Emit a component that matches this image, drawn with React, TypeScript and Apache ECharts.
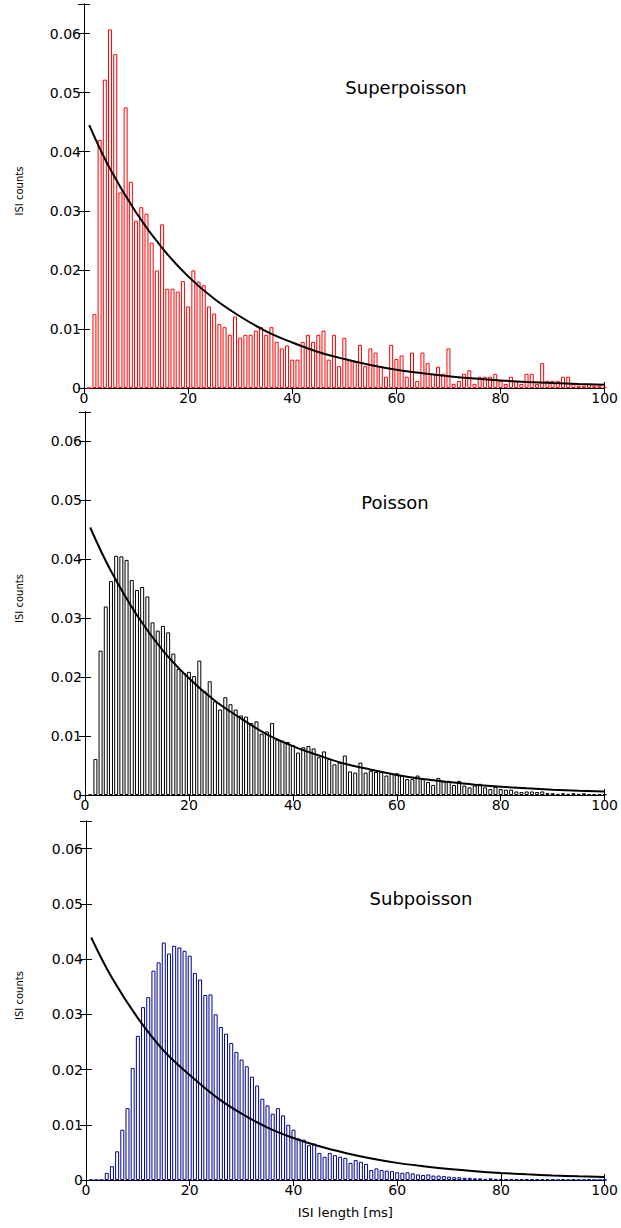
import React, { useEffect, useRef } from "react";
import * as echarts from "echarts";

// ---- data ----
const BIN_COUNT = 100; // histogram bins centred on 1..100 ms
const X_TICKS = [0, 20, 40, 60, 80, 100];
const Y_MAX = 0.065;
const PANEL_TITLES = ["Superpoisson", "Poisson", "Subpoisson"];

const superpoisson = [
  0, 0.0125, 0.042, 0.0522, 0.0607, 0.0565, 0.0331, 0.0475, 0.0349, 0.0283,
  0.0306, 0.0295, 0.0246, 0.0199, 0.0277, 0.0168, 0.0168, 0.0163, 0.0181, 0.0138,
  0.0199, 0.018, 0.0174, 0.0138, 0.0126, 0.0108, 0.0103, 0.009, 0.0121, 0.0085,
  0.009, 0.009, 0.0097, 0.0103, 0.009, 0.0103, 0.0078, 0.0067, 0.0072, 0.0048,
  0.0048, 0.0078, 0.009, 0.0078, 0.009, 0.0097, 0.0048, 0.009, 0.0037, 0.0085,
  0.0047, 0.0044, 0.0073, 0.0037, 0.0067, 0.006, 0.0037, 0.0019, 0.0073, 0.0049,
  0.0055, 0.0019, 0.006, 0.0012, 0.006, 0.0042, 0.0024, 0.0036, 0.0024, 0.0067,
  0.0007, 0.0012, 0.0024, 0.003, 0.0007, 0.0019, 0.0019, 0.0019, 0.0024, 0.0012,
  0.0007, 0.0019, 0.0012, 0.0007, 0.0024, 0.0024, 0.0007, 0.0042, 0.0012, 0.0012,
  0.0012, 0.0019, 0.0019, 0.0007, 0.0004, 0.0004, 0.0007, 0.0004, 0.0004, 0.0002,
];

const poisson = [
  0, 0.0061, 0.0245, 0.032, 0.0363, 0.0406, 0.0405, 0.0399, 0.0365, 0.0348,
  0.0353, 0.0337, 0.0293, 0.0279, 0.0287, 0.0276, 0.024, 0.0214, 0.0207, 0.0209,
  0.0202, 0.0228, 0.0176, 0.0193, 0.0159, 0.0145, 0.0166, 0.0154, 0.0145, 0.0135,
  0.0133, 0.0122, 0.0125, 0.0104, 0.0108, 0.0122, 0.0094, 0.0092, 0.009, 0.0085,
  0.0072, 0.0081, 0.0083, 0.0079, 0.0064, 0.0074, 0.0061, 0.0052, 0.0055, 0.0067,
  0.004, 0.0038, 0.0055, 0.0038, 0.0041, 0.0039, 0.0039, 0.0033, 0.0037, 0.0037,
  0.0033, 0.0027, 0.0027, 0.0033, 0.0027, 0.0022, 0.0017, 0.0029, 0.0023, 0.0024,
  0.0017, 0.0024, 0.0016, 0.0013, 0.0016, 0.0019, 0.0013, 0.001, 0.0014, 0.001,
  0.0009, 0.0009, 0.0006, 0.0005, 0.0006, 0.0006, 0.0005, 0.0006, 0.0003, 0.0003,
  0.0002, 0.0003, 0.0002, 0.0003, 0.0002, 0.0003, 0.0001, 0.0001, 0.0001, 0.0001,
];

const subpoisson = [
  0, 0, 0, 0.0013, 0.0025, 0.0052, 0.0091, 0.013, 0.0203, 0.0261,
  0.0313, 0.0331, 0.0379, 0.0394, 0.043, 0.041, 0.0424, 0.0421, 0.0415, 0.0406,
  0.0375, 0.0363, 0.0335, 0.0336, 0.03, 0.0277, 0.0265, 0.0248, 0.0232, 0.0218,
  0.0206, 0.0187, 0.0171, 0.0147, 0.0135, 0.012, 0.013, 0.0117, 0.01, 0.0091,
  0.0075, 0.0073, 0.0063, 0.0066, 0.0049, 0.0042, 0.0049, 0.0045, 0.0042, 0.004,
  0.0031, 0.0036, 0.0033, 0.0029, 0.0018, 0.0021, 0.0018, 0.0017, 0.0016, 0.0014,
  0.0013, 0.0014, 0.0012, 0.001, 0.0009, 0.001, 0.0008, 0.0008, 0.0007, 0.0006,
  0.0005, 0.0005, 0.0004, 0.0004, 0.0003, 0.0003, 0.0002, 0.0003, 0.0002, 0.0002,
  0.0001, 0.0002, 0.0001, 0.0001, 0.0002, 0.0001, 0.0001, 0.0001, 0.0001, 0.0001,
  0, 0.0001, 0, 0.0001, 0, 0, 0.0001, 0, 0, 0,
];

// fitted exponential curve, every 5 ms
const FIT_X = [1, 5, 10, 15, 20, 25, 30, 35, 40, 45, 50, 55, 60, 65, 70, 75, 80, 85, 90, 95, 100];
const fitSuper = [
  0.0445, 0.0371, 0.0297, 0.0237, 0.0189, 0.0151, 0.0121, 0.0096, 0.0077, 0.0061,
  0.0049, 0.0039, 0.0031, 0.0025, 0.002, 0.0016, 0.00128, 0.00103, 0.00083, 0.00067, 0.00054,
];
const fitPoisson = [
  0.0454, 0.038, 0.0305, 0.0245, 0.0198, 0.016, 0.013, 0.0103, 0.0083, 0.0067,
  0.0053, 0.0043, 0.0034, 0.0027, 0.0022, 0.00176, 0.00141, 0.00113, 0.0009, 0.00072, 0.00058,
];
const fitSub = [
  0.0439, 0.0366, 0.0293, 0.0234, 0.019, 0.0151, 0.012, 0.0095, 0.0076, 0.0061,
  0.0049, 0.0039, 0.0031, 0.0025, 0.002, 0.0016, 0.00128, 0.00103, 0.00083, 0.00067, 0.00054,
];

const HISTS = [superpoisson, poisson, subpoisson];
const FITS = [fitSuper, fitPoisson, fitSub];
const BAR_COLORS = ["#ff0000", "#000000", "#000090"];

const FONT = '"DejaVu Sans", sans-serif';

export default function App() {
  const ref = useRef<HTMLDivElement>(null);

  useEffect(() => {
    document.body.style.margin = "0";
    if (!ref.current) return;
    const chart = echarts.init(ref.current, undefined, { renderer: "svg" });

    const grids = [
      { left: 84, top: 4, width: 523, height: 384 },
      { left: 85, top: 412, width: 522, height: 383 },
      { left: 86, top: 821, width: 521, height: 359 },
    ];

    const axisLine = { show: true, lineStyle: { color: "#000", width: 1 } };
    const axisTick = { show: true, inside: true, length: 6, lineStyle: { color: "#000", width: 1 } };

    const xAxis: any[] = [];
    const yAxis: any[] = [];
    const series: any[] = [];
    const graphic: any[] = [];

    grids.forEach((g, i) => {
      const base = {
        gridIndex: i,
        type: "value",
        min: X_TICKS[0],
        max: X_TICKS[X_TICKS.length - 1],
        interval: X_TICKS[1] - X_TICKS[0],
        axisLine,
        axisTick,
        splitLine: { show: false },
      };
      xAxis.push({
        ...base,
        position: "bottom",
        axisLabel: { color: "#000", fontFamily: FONT, fontSize: 14, margin: 3 },
        ...(i === 2
          ? {
              name: "ISI length [ms]",
              nameLocation: "middle",
              nameGap: 26,
              nameTextStyle: { color: "#000", fontFamily: FONT, fontSize: 13 },
            }
          : {}),
      });
      xAxis.push({ ...base, position: "top", axisLabel: { show: false } });

      const ybase = {
        gridIndex: i,
        type: "value",
        min: 0,
        max: Y_MAX,
        interval: 0.01,
        axisLine,
        axisTick,
        splitLine: { show: false },
      };
      yAxis.push({
        ...ybase,
        position: "left",
        axisLabel: {
          color: "#000",
          fontFamily: FONT,
          fontSize: 14,
          margin: 3,
          formatter: (v: number) => (v > 0.0605 ? "" : String(+v.toFixed(2))),
        },
      });
      yAxis.push({ ...ybase, position: "right", axisLabel: { show: false } });

      series.push({
        type: "bar",
        xAxisIndex: 2 * i,
        yAxisIndex: 2 * i,
        data: HISTS[i].slice(0, BIN_COUNT).map((v, k) => [k + 1, v]),
        barWidth: 4,
        itemStyle: { color: "#ffffff", borderColor: BAR_COLORS[i], borderWidth: 1 },
        silent: true,
        z: 2,
      });
      series.push({
        type: "line",
        xAxisIndex: 2 * i,
        yAxisIndex: 2 * i,
        data: FIT_X.map((x, k) => [x, FITS[i][k]]),
        smooth: 0.4,
        showSymbol: false,
        lineStyle: { color: "#000", width: 2 },
        silent: true,
        z: 3,
      });

      const titlePos = [
        [406, 87],
        [395, 502],
        [421, 898],
      ][i];
      graphic.push({
        type: "text",
        x: titlePos[0],
        y: titlePos[1],
        style: {
          text: PANEL_TITLES[i],
          fill: "#000",
          font: `18px ${FONT}`,
          textAlign: "center",
          textVerticalAlign: "middle",
        },
      });
      graphic.push({
        type: "text",
        x: 19,
        y: g.top + g.height / 2 - 5,
        rotation: Math.PI / 2,
        style: {
          text: "ISI counts",
          fill: "#000",
          font: `10px ${FONT}`,
          textAlign: "center",
          textVerticalAlign: "middle",
        },
      });
    });

    chart.setOption({
      animation: false,
      backgroundColor: "#ffffff",
      grid: grids,
      xAxis,
      yAxis,
      series,
      graphic,
    });

    return () => chart.dispose();
  }, []);

  return <div ref={ref} style={{ width: 621, height: 1228 }} />;
}
